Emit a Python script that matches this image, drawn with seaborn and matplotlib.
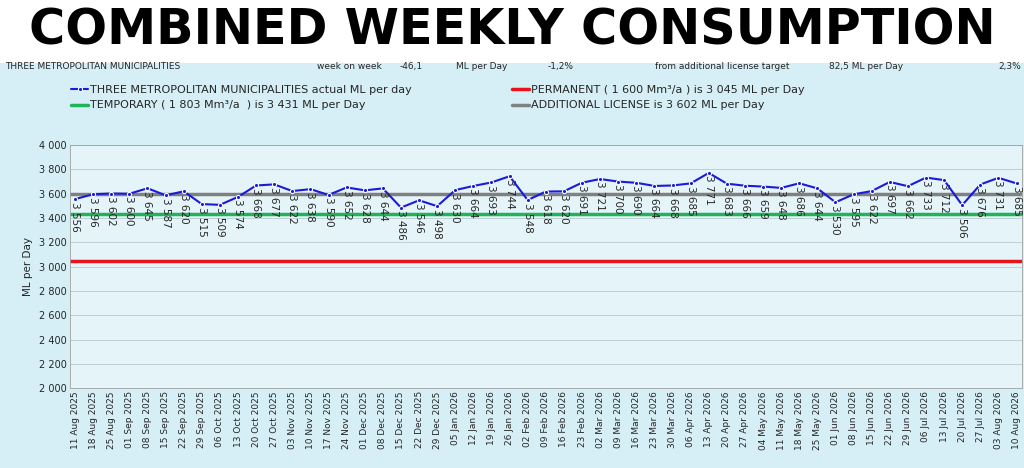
import matplotlib
matplotlib.use("Agg")
import matplotlib.pyplot as plt
import seaborn as sns
import pandas as pd
import numpy as np

values = [3556,3596,3602,3600,3645,3587,3620,3515,3509,3574,3668,3677,3622,3638,3590,3652,3628,3644,
          3486,3546,3498,3630,3664,3693,3744,3548,3618,3620,3691,3721,3700,3690,3664,3668,3685,3771,
          3683,3666,3659,3648,3686,3644,3530,3595,3622,3697,3662,3733,3712,3506,3676,3731,3685]
dates = pd.date_range("2025-08-11", periods=len(values), freq="7D")
labels = [d.strftime("%d %b %Y") for d in dates]
permanent = 3045
temporary = 3431
additional = 3602

sns.set_theme(style="white")
plt.rcParams['font.family'] = ['DejaVu Sans']

fig = plt.figure(figsize=(10.24, 4.68), dpi=100)
fig.patch.set_facecolor("white")
bg = fig.add_axes([0, 0, 1, 0.865])
bg.set_facecolor("#d6eef5")
bg.set_xticks([]); bg.set_yticks([])
for s in bg.spines.values(): s.set_visible(False)

fig.text(0.5, 0.935, "COMBINED WEEKLY CONSUMPTION", ha="center", va="center",
         fontsize=35.5, fontweight="bold", color="black")
hy = 0.857
fig.text(0.005, hy, "THREE METROPOLITAN MUNICIPALITIES", fontsize=6.5, va="center")
fig.text(0.31, hy, "week on week", fontsize=6.5, va="center")
fig.text(0.39, hy, "-46,1", fontsize=6.5, va="center")
fig.text(0.445, hy, "ML per Day", fontsize=6.5, va="center")
fig.text(0.535, hy, "-1,2%", fontsize=6.5, va="center")
fig.text(0.64, hy, "from additional license target", fontsize=6.5, va="center")
fig.text(0.81, hy, "82,5 ML per Day", fontsize=6.5, va="center")
fig.text(0.975, hy, "2,3%", fontsize=6.5, va="center")

ax = fig.add_axes([0.068, 0.17, 0.93, 0.52])
ax.set_facecolor("#e4f4f8")
x = np.arange(len(values))
ax.axhline(permanent, color="#e8141a", lw=2.5, label="PERMANENT ( 1 600 Mm³/a ) is 3 045 ML per Day")
ax.axhline(temporary, color="#1fb35a", lw=2.5, label="TEMPORARY ( 1 803 Mm³/a  ) is 3 431 ML per Day")
ax.axhline(additional, color="#808080", lw=2.5, label="ADDITIONAL LICENSE is 3 602 ML per Day")
sns.lineplot(x=x, y=values, ax=ax, color="#1a1adb", marker="o", markersize=3, lw=1.5,
             label="THREE METROPOLITAN MUNICIPALITIES actual ML per day")
for xi, v in zip(x, values):
    ax.text(xi, v - 20, f"{v//1000} {v%1000:03d}", rotation=-90, ha="center", va="top", fontsize=7.5)
ax.set_xlim(-0.3, len(values) - 0.7)
ax.set_ylim(2000, 4000)
ax.set_yticks(range(2000, 4001, 200))
ax.set_yticklabels([f"{t//1000} {t%1000:03d}" for t in range(2000, 4001, 200)], fontsize=7)
ax.set_xticks(x)
ax.set_xticklabels(labels, rotation=90, fontsize=6.5)
ax.set_ylabel("ML per Day", fontsize=7.5)
ax.grid(axis="y", color="#b8c8d0", lw=0.6)
for s in ax.spines.values(): s.set_color("#a0a0a0"); s.set_linewidth(0.6)
ax.tick_params(axis="both", length=0, pad=2)

h, l = ax.get_legend_handles_labels()
if ax.get_legend() is not None:
    ax.get_legend().remove()
order = [3, 1, 0, 2]
fig.legend([h[i] for i in order], [l[i] for i in order], loc="upper left",
           bbox_to_anchor=(0.06, 0.84), ncol=2, frameon=False, fontsize=8,
           columnspacing=9, handlelength=1.5, handletextpad=0.2)
fig.savefig("out.png", dpi=100, facecolor=fig.get_facecolor())
